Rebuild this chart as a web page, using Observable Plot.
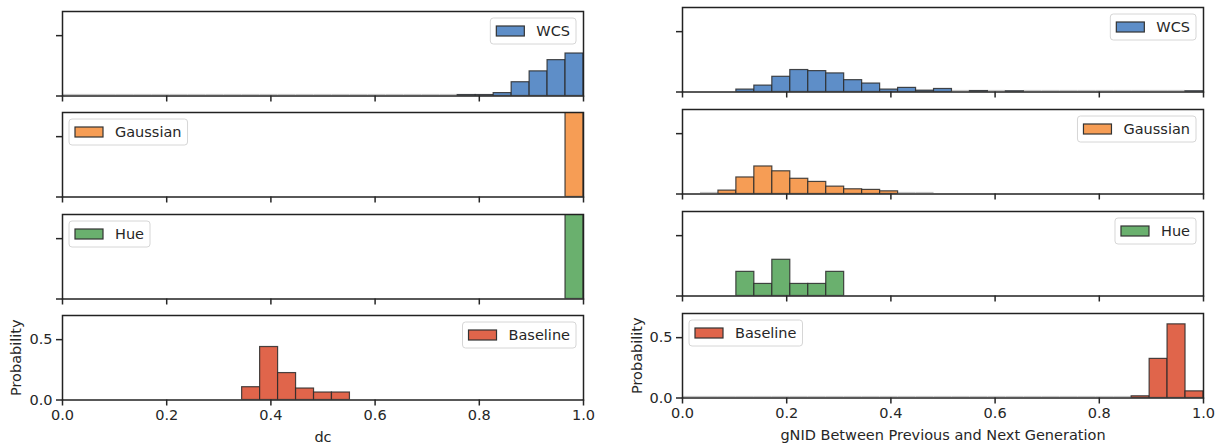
<!DOCTYPE html>
<html><head><meta charset="utf-8">
<script src="https://cdn.jsdelivr.net/npm/d3@7"></script>
<script src="https://cdn.jsdelivr.net/npm/@observablehq/plot@0.6"></script>
<style>
body{margin:0;background:#fff}
#chart{position:relative;width:1225px;height:444px;overflow:hidden;background:#fff}
#chart svg{position:absolute}
</style>
</head><body><div id="chart"></div>
<script>
// ---- data ----
const binEdges = [0, 0.0345, 0.069, 0.1034, 0.1379, 0.1724, 0.2069, 0.2414, 0.2759, 0.3103,
  0.3448, 0.3793, 0.4138, 0.4483, 0.4828, 0.5172, 0.5517, 0.5862, 0.6207, 0.6552,
  0.6897, 0.7241, 0.7586, 0.7931, 0.8276, 0.8621, 0.8966, 0.931, 0.9655, 1.0];
const N = null;
// dc (left column), one value per bin (null = no bar)
const dcWCS      = [0,0,0,0,0,0,0,0,0,0, 0,0,0,0,0,0,0,0,0,0, 0,0,0.008,0.008,0.024,0.114,0.204,0.297,0.352];
const dcGaussian = [N,N,N,N,N,N,N,N,N,N, N,N,N,N,N,N,N,N,N,N, N,N,N,N,N,N,N,N,1.0];
const dcHue      = [N,N,N,N,N,N,N,N,N,N, N,N,N,N,N,N,N,N,N,N, N,N,N,N,N,N,N,N,1.0];
const dcBaseline = [N,N,N,N,N,N,N,N,N,N, 0.106,0.439,0.223,0.095,0.062,0.062,N,N,N,N, N,N,N,N,N,N,N,N,N];
// gNID (right column)
const gWCS       = [N,N,N,0.02,0.053,0.126,0.182,0.173,0.154,0.098, 0.07,0.02,0.034,0.011,0.025,0,0.008,0,0.006,0, 0,0,0,0,0,0,0,0,0.006];
const gGaussian  = [N,0,0.028,0.137,0.228,0.188,0.126,0.10,0.061,0.039, 0.034,0.022,0,0,N,N,N,N,N,N, N,N,N,N,N,N,N,N,N];
const gHue       = [N,N,N,0.2,0.1,0.3,0.1,0.1,0.2,N, N,N,N,N,N,N,N,N,N,N, N,N,N,N,N,N,N,N,N];
const gBaseline  = [0,0,0,0,0,0,0,0,0,0, 0,0,0,0,0,0,0,0,0,0, 0,0,0,0,0,0.014,0.324,0.61,0.055];

const seriesNames = ["WCS", "Gaussian", "Hue", "Baseline"];
const seriesColors = ["#5e8ec8", "#f69d55", "#6ab06e", "#e0654b"];
const xTicks = [0, 0.2, 0.4, 0.6, 0.8, 1.0];
const yTicks = [0, 0.5];
const xLabels = ["dc", "gNID Between Previous and Next Generation"];
const yLabel = "Probability";

// ---- layout ----
const container = document.getElementById("chart");
const FS = 14.5;
const FH = 84.5;
const cols = [
  {left: 0, width: 600, ml: 62, mr: 17, tops: [11, 112.2, 213.5, 314.7],
   values: [dcWCS, dcGaussian, dcHue, dcBaseline], legend: ["right", "left", "left", "right"]},
  {left: 620, width: 605, ml: 62, mr: 22, tops: [7.3, 109.1, 210.9, 312.7],
   values: [gWCS, gGaussian, gHue, gBaseline], legend: ["right", "right", "right", "left"]}
];

function addLegend(svg, label, color, side, fl, fr, ft) {
  const g = d3.select(svg).append("g")
    .attr("font-family", "DejaVu Sans").attr("font-size", FS).attr("text-anchor", "start");
  const box = g.append("rect");
  const sw = g.append("rect");
  const t = g.append("text").text(label).attr("fill", "#262626").attr("text-anchor", "start");
  const tw = t.node().getComputedTextLength();
  const pad = 6, hl = 28, gap = 12, h = 26;
  const w = pad + hl + gap + tw + pad;
  const x0 = side === "right" ? fr - 7 - w : fl + 7;
  const y0 = ft + 7;
  box.attr("x", x0).attr("y", y0).attr("width", w).attr("height", h)
    .attr("rx", 3).attr("fill", "#fff").attr("fill-opacity", 0.8)
    .attr("stroke", "#d6d6d6").attr("stroke-width", 1);
  sw.attr("x", x0 + pad).attr("y", y0 + h / 2 - 5).attr("width", hl).attr("height", 10)
    .attr("fill", color).attr("stroke", "#333").attr("stroke-width", 1.2);
  t.attr("x", x0 + pad + hl + gap).attr("y", y0 + h / 2).attr("dy", "0.35em");
}

cols.forEach((c, ci) => {
  c.values.forEach((vals, ri) => {
    const bottom = ri === 3;
    const mt = 4, mb = bottom ? 46 : 12;
    const height = FH + mt + mb;
    const rows = vals.map((v, i) => ({x1: binEdges[i], x2: binEdges[i + 1], v})).filter(d => d.v !== null);
    const bars = rows.filter(d => d.v > 0);
    const zeros = rows.filter(d => d.v === 0);
    const marks = [
      Plot.ruleY(zeros, {x1: "x1", x2: "x2", y: 0, stroke: "#c4c4c4", strokeWidth: 1.2, dy: -1.5}),
      Plot.rect(bars, {x1: "x1", x2: "x2", y1: 0, y2: "v", fill: seriesColors[ri],
        stroke: "#2a2a2a", strokeOpacity: 0.85, strokeWidth: 1.2, clip: true}),
      Plot.frame({stroke: "#222", strokeWidth: 1.5}),
      Plot.axisX({ticks: xTicks, tickSize: 6, tickPadding: 4, strokeWidth: 1.5, label: null,
        tickFormat: bottom ? d3.format(".1f") : () => ""}),
      Plot.axisY({ticks: yTicks, tickSize: 6, tickPadding: 4, strokeWidth: 1.5, label: null,
        tickFormat: bottom ? d3.format(".1f") : () => ""})
    ];
    if (bottom) {
      marks.push(Plot.text([xLabels[ci]], {text: d => d, frameAnchor: "bottom", dy: 37,
        lineAnchor: "middle", fill: "#262626", fontSize: FS}));
      marks.push(Plot.text([yLabel], {text: d => d, frameAnchor: "left", dx: ci === 0 ? -46.5 : -45.5,
        rotate: -90, textAnchor: "middle", lineAnchor: "middle", fill: "#262626", fontSize: FS}));
    }
    const svg = Plot.plot({
      width: c.width, height,
      marginLeft: c.ml, marginRight: c.mr, marginTop: mt, marginBottom: mb,
      x: {domain: [0, 1]},
      y: {domain: [0, 0.7]},
      style: {fontFamily: "DejaVu Sans", fontSize: FS + "px", color: "#262626", background: "transparent", overflow: "visible"},
      marks
    });
    svg.style.left = c.left + "px";
    svg.style.top = (c.tops[ri] - mt) + "px";
    container.appendChild(svg);
    addLegend(svg, seriesNames[ri], seriesColors[ri], c.legend[ri], c.ml, c.width - c.mr, mt);
  });
});
</script></body></html>
